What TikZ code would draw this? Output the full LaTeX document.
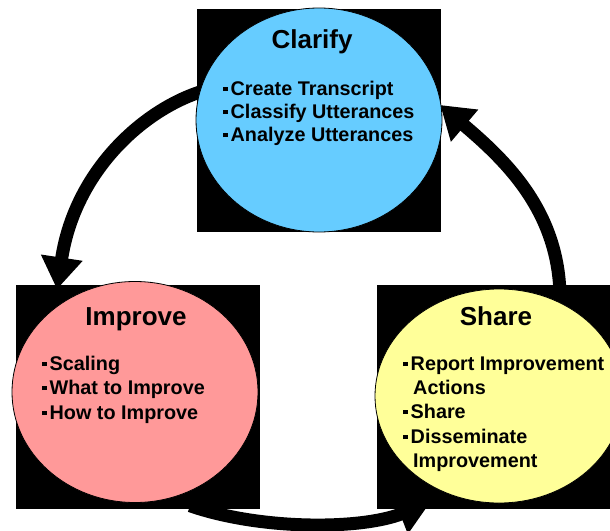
\documentclass[tikz,border=0pt]{standalone}
\usepackage{fontspec}
\setmainfont{Liberation Sans}
\usetikzlibrary{arrows.meta,shapes.geometric}
\definecolor{cblue}{HTML}{66CCFF}
\definecolor{cpink}{HTML}{FF9999}
\definecolor{cyellow}{HTML}{FFFF99}
\newcommand\bul{\makebox[7.5pt][l]{\rule[4pt]{4.5pt}{4.5pt}}}
\begin{document}
\begin{tikzpicture}[x=1pt,y=-1pt,
  sq/.style={rectangle,fill=black,draw=none,minimum width=244pt,minimum height=223pt,inner sep=0pt},
  bubble/.style={ellipse,draw=black,line width=0.8pt,minimum width=246pt,minimum height=224pt,inner sep=0pt},
  ttl/.style={anchor=base,inner sep=0pt,font=\bfseries\fontsize{26}{30}\selectfont},
  item/.style={anchor=base west,inner sep=0pt,font=\bfseries\fontsize{19.8}{24}\selectfont},
  flow/.style={line width=13pt,-{Triangle[width=40pt,length=32pt]}}]
\useasboundingbox (0,0) rectangle (610,530);
% squares
\node[sq] (sqC) at (319,120.5) {};
\node[sq] (sqI) at (138,397) {};
\node[sq] (sqS) at (499,397) {};
% arrows (behind the squares' content)
\draw[flow] ([xshift=8pt,yshift=30pt]sqC.west) .. controls (145,108) and (75,170) .. ([xshift=-81pt,yshift=-4pt]sqI.north);
\draw[flow] ([xshift=61pt,yshift=-9pt]sqS.north) .. controls (558,210) and (505,160) .. ([xshift=-1pt,yshift=15.5pt]sqC.east);
\draw[flow] ([xshift=52pt,yshift=3pt]sqI.south) .. controls (260,530) and (360,530) .. ([xshift=-69pt,yshift=6pt]sqS.south);
% redraw squares on top of arrow ends
\fill[black] (sqC.south west) rectangle (sqC.north east);
\fill[black] (sqI.south west) rectangle (sqI.north east);
\fill[black] (sqS.south west) rectangle (sqS.north east);
% circles
\node[bubble,fill=cblue] (clar) at (319,120) {};
\node[bubble,fill=cpink,minimum height=221pt] (impr) at (135,392) {};
\node[bubble,fill=cyellow,minimum height=214pt,minimum width=248pt] (shar) at (499,396) {};
% Clarify text
\node[ttl] (tC) at (312,48) {Clarify};
\node[item] (c1) at (223,95) {\bul Create Transcript};
\node[item] (c2) at (223,118) {\bul Classify Utterances};
\node[item] (c3) at (223,141) {\bul Analyze Utterances};
% Improve text
\node[ttl] (tI) at (136,325) {Improve};
\node[item] (i1) at (42,370) {\bul Scaling};
\node[item] (i2) at (42,394) {\bul What to Improve};
\node[item] (i3) at (42,419) {\bul How to Improve};
% Share text
\node[ttl] (tS) at (496,325) {Share};
\node[item] (s1) at (403,370) {\bul Report Improvement};
\node[item] (s2) at (413,394) {Actions};
\node[item] (s3) at (403,418) {\bul Share};
\node[item] (s4) at (403,443) {\bul Disseminate};
\node[item] (s5) at (413,467) {Improvement};
\end{tikzpicture}
\end{document}
